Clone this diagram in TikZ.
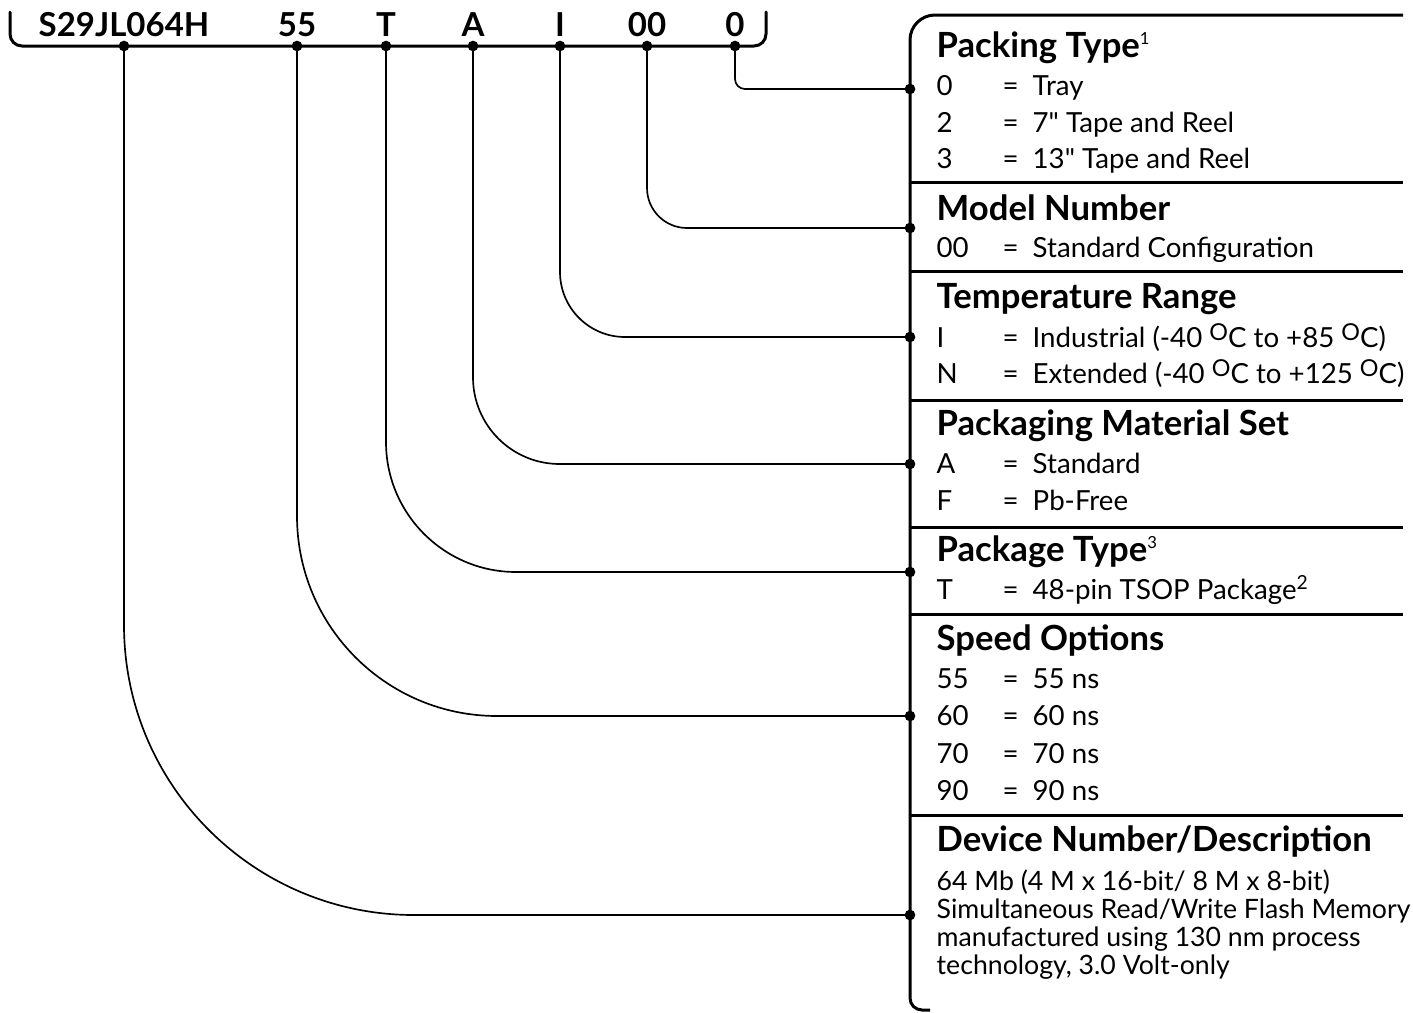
\documentclass[tikz,border=0pt]{standalone}
\usepackage{fontspec}
\setmainfont{Lato}[Ligatures=TeXOff]
\usetikzlibrary{positioning}
\tikzset{
  bus/.style={line width=0.9pt, line cap=round},
  frame/.style={line width=0.9pt},
  sep/.style={line width=0.9pt},
  conn/.style={line width=0.5pt},
  pin/.style={circle, fill=black, inner sep=0pt, minimum size=3.2pt},
  code/.style={font=\bfseries\fontsize{9.9}{11}\selectfont, anchor=base, inner sep=0pt},
  head/.style={font=\bfseries\fontsize{10.4}{12}\selectfont, anchor=base west, inner sep=0pt},
  rowtxt/.style={font=\fontsize{8.3}{10}\selectfont, anchor=base west, inner sep=0pt},
  desc/.style={font=\fontsize{8}{9}\selectfont, anchor=base west, inner sep=0pt},
}
% one line of a table: name, baseline, code, value
\newcommand\optrow[4]{%
  \node[rowtxt] (#1c) at (936,#2) {#3};
  \node[rowtxt] (#1e) at (1002,#2) {=};
  \node[rowtxt] (#1v) at (1032,#2) {#4};}
\newcommand\degC{\raisebox{0.45ex}{\fontsize{7}{7}\selectfont O}C}

\begin{document}
\begin{tikzpicture}[x=0.3pt, y=-0.3pt]
  \useasboundingbox (0,0) rectangle (1413,1012);

  % part number above the bus
  \node[code] (cdev) at (124,36) {S29JL064H};
  \node[code] (cspd) at (297,36) {55};
  \node[code] (cpkg) at (386,36) {T};
  \node[code] (cmat) at (473,36) {A};
  \node[code] (ctmp) at (560,36) {I};
  \node[code] (cmod) at (647,36) {00};
  \node[code] (cpck) at (735,36) {0};
  \draw[bus, rounded corners=3.6pt] (10,12) -- (10,46) -- (766,46) -- (766,12);

  % the option box
  \draw[frame] (1403,15) [rounded corners=7.5pt] -- (910,15)
     [rounded corners=3.6pt] -- (910,1010) -- (930,1010);
  \foreach \y in {182,271,400,527,614,815}
    \draw[sep] (910,\y) -- (1403,\y);

  % pins on the bus and on the box
  \foreach \n/\x in {dev/124,spd/297,pkg/386,mat/473,tmp/560,mod/647,pck/735}
    \node[pin] (b\n) at (\x,46) {};
  \foreach \n/\y in {dev/915,spd/716,pkg/572,mat/464,tmp/337,mod/228,pck/89}
    \node[pin] (p\n) at (910,\y) {};

  % connectors
  \draw[conn, rounded corners=3pt]  (bpck.center) |- (ppck.center);
  \draw[conn, rounded corners=12pt] (bmod.center) |- (pmod.center);
  \draw[conn, rounded corners=19.5pt] (btmp.center) |- (ptmp.center);
  \draw[conn, rounded corners=26pt] (bmat.center) |- (pmat.center);
  \draw[conn, rounded corners=39pt] (bpkg.center) |- (ppkg.center);
  \draw[conn, rounded corners=60pt] (bspd.center) |- (pspd.center);
  \draw[conn, rounded corners=87pt] (bdev.center) |- (pdev.center);

  % Packing Type
  \node[head] (hpck) at (936,57) {Packing Type\textsuperscript{\normalfont\tiny 1}};
  \optrow{pckA}{95}{0}{Tray}
  \optrow{pckB}{132}{2}{7" Tape and Reel}
  \optrow{pckC}{168}{3}{13" Tape and Reel}
  % Model Number
  \node[head] (hmod) at (936,220) {Model Number};
  \optrow{modA}{257}{00}{Standard Configuration}
  % Temperature Range
  \node[head] (htmp) at (936,308) {Temperature Range};
  \optrow{tmpA}{347}{I}{Industrial (-40 \degC\ to +85 \degC)}
  \optrow{tmpB}{383}{N}{Extended (-40 \degC\ to +125 \degC)}
  % Packaging Material Set
  \node[head] (hmat) at (936,435) {Packaging Material Set};
  \optrow{matA}{473}{A}{Standard}
  \optrow{matB}{510}{F}{Pb-Free}
  % Package Type
  \node[head] (hpkg) at (936,561) {Package Type\textsuperscript{\normalfont\tiny 3}};
  \optrow{pkgA}{599}{T}{48-pin TSOP Package\textsuperscript{2}}
  % Speed Options
  \node[head] (hspd) at (936,650) {Speed Options};
  \optrow{spdA}{688}{55}{55 ns}
  \optrow{spdB}{725}{60}{60 ns}
  \optrow{spdC}{763}{70}{70 ns}
  \optrow{spdD}{800}{90}{90 ns}
  % Device Number/Description
  \node[head] (hdev) at (936,851) {Device Number/Description};
  \node[desc] (ddevA) at (936,890) {64 Mb (4 M x 16-bit/ 8 M x 8-bit)};
  \node[desc] (ddevB) at (936,918) {Simultaneous Read/Write Flash Memory};
  \node[desc] (ddevC) at (936,946) {manufactured using 130 nm process};
  \node[desc] (ddevD) at (936,974) {technology, 3.0 Volt-only};
\end{tikzpicture}
\end{document}
